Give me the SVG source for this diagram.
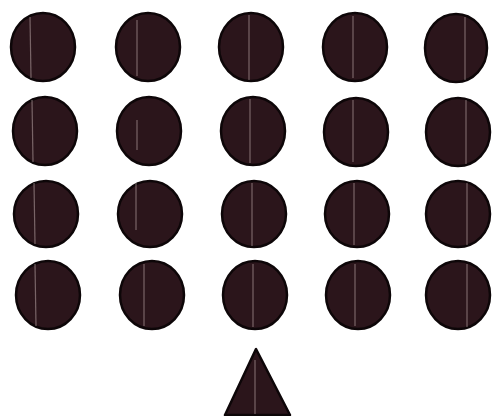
<svg xmlns="http://www.w3.org/2000/svg" width="492" height="416" viewBox="0 0 492 416">
<style>
.dot{fill:#2b151b;stroke:#0d0608;stroke-width:2.5}
.streak{stroke:#b9a6a6;stroke-width:1.2;opacity:0.55}
</style>
<rect width="492" height="416" fill="#ffffff"/>
<g id="row1">
<g id="c11"><ellipse class="dot" cx="43" cy="47" rx="32" ry="34"/><line class="streak" x1="30" y1="17" x2="31" y2="78"/></g>
<g id="c12"><ellipse class="dot" cx="148" cy="47" rx="32" ry="34"/><line class="streak" x1="137" y1="20" x2="137" y2="76"/></g>
<g id="c13"><ellipse class="dot" cx="251" cy="47" rx="32" ry="34"/><line class="streak" x1="249" y1="15" x2="249" y2="80"/></g>
<g id="c14"><ellipse class="dot" cx="355" cy="47" rx="32" ry="34"/><line class="streak" x1="353" y1="16" x2="353" y2="78"/></g>
<g id="c15"><ellipse class="dot" cx="456" cy="48" rx="31" ry="34"/><line class="streak" x1="465" y1="17" x2="465" y2="80"/></g>
</g>
<g id="row2">
<g id="c21"><ellipse class="dot" cx="45" cy="131" rx="32" ry="34"/><line class="streak" x1="32" y1="100" x2="33" y2="162"/></g>
<g id="c22"><ellipse class="dot" cx="149" cy="131" rx="32" ry="34"/><line class="streak" x1="137" y1="120" x2="137" y2="150"/></g>
<g id="c23"><ellipse class="dot" cx="253" cy="131" rx="32" ry="34"/><line class="streak" x1="250" y1="99" x2="250" y2="163"/></g>
<g id="c24"><ellipse class="dot" cx="356" cy="132" rx="32" ry="34"/><line class="streak" x1="353" y1="100" x2="353" y2="162"/></g>
<g id="c25"><ellipse class="dot" cx="458" cy="132" rx="32" ry="34"/><line class="streak" x1="466" y1="100" x2="466" y2="164"/></g>
</g>
<g id="row3">
<g id="c31"><ellipse class="dot" cx="46" cy="214" rx="32" ry="33"/><line class="streak" x1="34" y1="183" x2="35" y2="244"/></g>
<g id="c32"><ellipse class="dot" cx="150" cy="214" rx="32" ry="33"/><line class="streak" x1="136" y1="183" x2="136" y2="230"/></g>
<g id="c33"><ellipse class="dot" cx="254" cy="214" rx="32" ry="33"/><line class="streak" x1="252" y1="183" x2="252" y2="246"/></g>
<g id="c34"><ellipse class="dot" cx="357" cy="214" rx="32" ry="33"/><line class="streak" x1="354" y1="183" x2="354" y2="245"/></g>
<g id="c35"><ellipse class="dot" cx="458" cy="214" rx="32" ry="33"/><line class="streak" x1="467" y1="183" x2="467" y2="245"/></g>
</g>
<g id="row4">
<g id="c41"><ellipse class="dot" cx="48" cy="295" rx="32" ry="34"/><line class="streak" x1="35" y1="264" x2="36" y2="326"/></g>
<g id="c42"><ellipse class="dot" cx="152" cy="295" rx="32" ry="34"/><line class="streak" x1="144" y1="264" x2="144" y2="326"/></g>
<g id="c43"><ellipse class="dot" cx="255" cy="295" rx="32" ry="34"/><line class="streak" x1="253" y1="264" x2="253" y2="327"/></g>
<g id="c44"><ellipse class="dot" cx="358" cy="295" rx="32" ry="34"/><line class="streak" x1="355" y1="264" x2="355" y2="326"/></g>
<g id="c45"><ellipse class="dot" cx="458" cy="295" rx="32" ry="34"/><line class="streak" x1="467" y1="264" x2="467" y2="327"/></g>
</g>
<g id="triangle">
<polygon class="dot" points="256,349 225,415 290,415" stroke-linejoin="round"/>
<line class="streak" x1="255" y1="360" x2="255" y2="414"/>
</g>
</svg>
